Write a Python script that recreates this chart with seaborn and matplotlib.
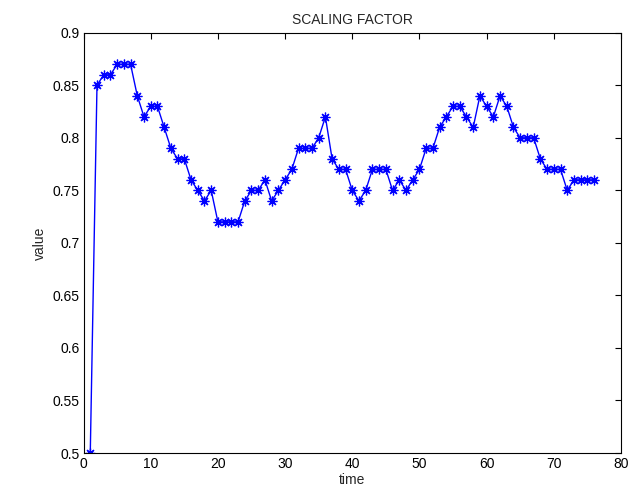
import matplotlib
matplotlib.use("Agg")
import matplotlib.pyplot as plt
import seaborn as sns
import pandas as pd

time = list(range(1, 77))
value = [0.50, 0.85, 0.86, 0.86, 0.87, 0.87, 0.87, 0.84, 0.82, 0.83,
         0.83, 0.81, 0.79, 0.78, 0.78, 0.76, 0.75, 0.74, 0.75, 0.72,
         0.72, 0.72, 0.72, 0.74, 0.75, 0.75, 0.76, 0.74, 0.75, 0.76,
         0.77, 0.79, 0.79, 0.79, 0.80, 0.82, 0.78, 0.77, 0.77, 0.75,
         0.74, 0.75, 0.77, 0.77, 0.77, 0.75, 0.76, 0.75, 0.76, 0.77,
         0.79, 0.79, 0.81, 0.82, 0.83, 0.83, 0.82, 0.81, 0.84, 0.83,
         0.82, 0.84, 0.83, 0.81, 0.80, 0.80, 0.80, 0.78, 0.77, 0.77,
         0.77, 0.75, 0.76, 0.76, 0.76, 0.76]
xticks = [0, 10, 20, 30, 40, 50, 60, 70, 80]
yticks = [0.5, 0.55, 0.6, 0.65, 0.7, 0.75, 0.8, 0.85, 0.9]
ytick_labels = ["0.5", "0.55", "0.6", "0.65", "0.7", "0.75", "0.8", "0.85", "0.9"]

df = pd.DataFrame({"time": time, "value": value})

sns.set_style("white")
plt.rcParams["font.family"] = ["Liberation Sans", "DejaVu Sans"]

fig = plt.figure(figsize=(6.33, 4.97), dpi=100)
ax = fig.add_axes([0.132, 0.0885, 0.849, 0.8455])
sns.lineplot(data=df, x="time", y="value", ax=ax, color="#0000ff",
             marker=(8, 2, 0), markersize=7, markeredgecolor="#0000ff",
             markeredgewidth=0.9, linewidth=1)
ax.set_xlim(0, 80)
ax.set_ylim(0.5, 0.9)
ax.set_xticks(xticks)
ax.set_xticklabels([str(t) for t in xticks])
ax.set_yticks(yticks)
ax.set_yticklabels(ytick_labels)
ax.tick_params(direction="in", top=True, right=True, length=4, width=0.8,
               labelsize=10, colors="black", pad=3)
for s in ax.spines.values():
    s.set_color("black")
    s.set_linewidth(0.8)
ax.set_title("SCALING FACTOR", fontsize=10, pad=6)
ax.set_xlabel("time", fontsize=10, labelpad=1)
ax.set_ylabel("value", fontsize=10, labelpad=4)
fig.savefig("out.png", dpi=100, facecolor="white")
